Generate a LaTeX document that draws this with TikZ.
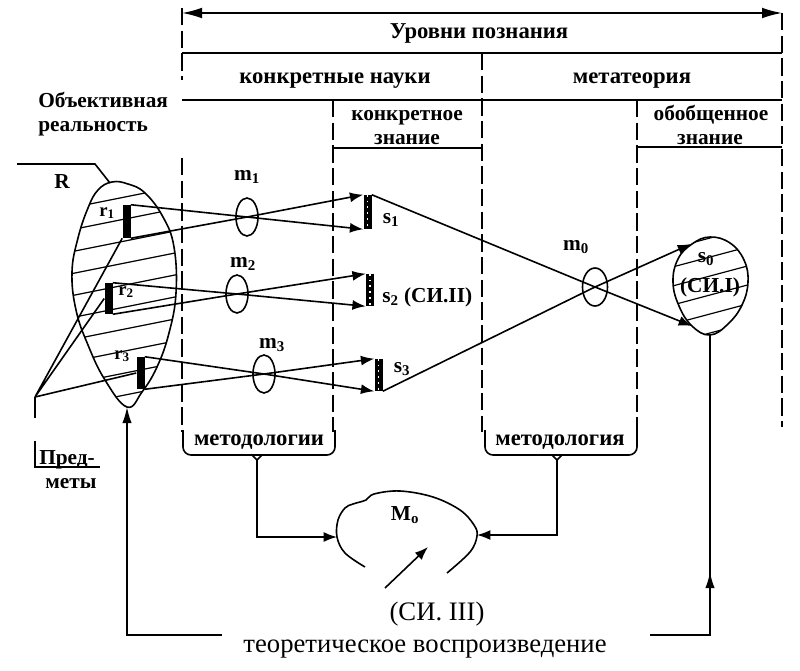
\documentclass[tikz,border=0pt]{standalone}
\usepackage{fontspec}
\setmainfont{Liberation Serif}
\usetikzlibrary{arrows.meta,shapes.geometric}
\begin{document}
\begin{tikzpicture}[x=0.75pt,y=-0.75pt,
 ln/.style={line width=1.2pt},
 hl/.style={line width=0.9pt},
 dl/.style={line width=1.2pt,dash pattern=on 13pt off 4pt},
 tip/.style={-{Latex[length=10pt,width=7.5pt]}},
 bigtip/.style={{Latex[length=15pt,width=8pt]}-{Latex[length=15pt,width=8pt]}},
 hdr/.style={font=\bfseries\fontsize{17}{20}\selectfont,inner sep=0pt,anchor=base},
 two/.style={font=\bfseries\fontsize{16}{19}\selectfont,inner sep=0pt,anchor=base},
 lbl/.style={font=\bfseries\fontsize{16}{19}\selectfont,inner sep=0pt,anchor=base},
 sml/.style={font=\bfseries\fontsize{14}{16}\selectfont,inner sep=0pt,anchor=base},
 txt/.style={font=\fontsize{20}{24}\selectfont,inner sep=0pt,anchor=base},
 lens/.style={draw,ellipse,line width=1.2pt,minimum width=16.5pt,minimum height=28.5pt,inner sep=0pt},
 bar/.style={fill=black,minimum width=6pt,inner sep=0pt},
 dots/.style={white,line width=1.4pt,dash pattern=on 1.4pt off 3pt},
]
\useasboundingbox (0,0) rectangle (800,671);
\fill[white] (0,0) rectangle (800,671);

% ---------- header frame ----------
\draw[ln,bigtip] (182,13) -- (782,13);
\draw[ln] (182,53) -- (782,53);
\draw[ln] (182,100) -- (782,100);
\draw[ln] (333,148) -- (482,148);
\draw[ln] (637,147) -- (782,147);
\draw[dl] (182,8) -- (182,80);
\draw[dl] (182,158) -- (182,432);
\draw[dl] (333,100) -- (333,432);
\draw[dl] (482,53) -- (482,432);
\draw[dl] (637,100) -- (637,432);
\draw[dl] (782,13) -- (782,427);

\node[hdr] (tU) at (479,38) {Уровни познания};
\node[hdr] (tK) at (335,83) {конкретные науки};
\node[hdr] (tM) at (632,83) {метатеория};
\node[two] (tKZ1) at (407,120) {конкретное};
\node[two] (tKZ2) at (407,144) {знание};
\node[two] (tOZ1) at (711,120) {обобщенное};
\node[two] (tOZ2) at (710,144) {знание};
\node[lbl,anchor=base west] (tO1) at (38,107) {Объективная};
\node[lbl,anchor=base west] (tO2) at (38,131) {реальность};

% ---------- R blob ----------
\begin{scope}
\clip plot[smooth cycle,tension=0.7] coordinates {(112,182) (128,184) (145,193) (163,217) (174,247) (176,293) (169,333) (157,367) (142,392) (127,407) (105,380) (88,345) (76,310) (72,272) (78,238) (88,208) (98,190)};
\foreach \c in {188,210,...,440} \draw[hl] (60,\c) -- (190,\c-26);
\end{scope}
\draw[ln] plot[smooth cycle,tension=0.7] coordinates {(112,182) (128,184) (145,193) (163,217) (174,247) (176,293) (169,333) (157,367) (142,392) (127,407) (105,380) (88,345) (76,310) (72,272) (78,238) (88,208) (98,190)};
\coordinate (Rtop) at (110,183);
\coordinate (Rb) at (127,407);
\coordinate (Rp1) at (17,164);
\coordinate (Rp2) at (95,164);
\draw[ln] (Rp1) -- (Rp2) -- (Rtop);
\node[lbl] (tR) at (62,188) {R};

% bars r
\node[bar,minimum height=24.75pt] (r1) at (126.5,221.5) {};
\node[bar,minimum height=23.25pt] (r2) at (108.5,298.5) {};
\node[bar,minimum height=24pt] (r3) at (140.5,373) {};
\node[sml] (tr1) at (107,216) {r\textsubscript{1}};
\node[sml] (tr2) at (126,295) {r\textsubscript{2}};
\node[sml] (tr3) at (122,359) {r\textsubscript{3}};

% Predmety
\coordinate (P) at (35,397);
\coordinate (P2) at (35,418);
\draw[ln] (r1.south west) -- (P) -- (r2.west);
\draw[ln] (P) -- (r3.west);
\draw[ln] (P) -- (P2);
\draw[ln] (35,441) -- (35,467) -- (100,467);
\node[lbl,anchor=base west] (tP1) at (39,464) {Пред-};
\node[lbl] (tP2) at (71,488) {меты};

% lenses
\node[lens] (m1) at (247,217) {};
\node[lens] (m2) at (237,294) {};
\node[lens] (m3) at (264,374) {};
\node[lens,minimum width=18.75pt] (m0) at (595,287) {};
\node[lbl] (tm1) at (247,180) {m\textsubscript{1}};
\node[lbl] (tm2) at (243,267) {m\textsubscript{2}};
\node[lbl] (tm3) at (272,348) {m\textsubscript{3}};
\node[lbl] (tm0) at (576,250) {m\textsubscript{0}};

% bars s
\node[bar,minimum height=25.5pt] (s1) at (367.5,212) {};
\node[bar,minimum height=24pt] (s2) at (370,290) {};
\node[bar,minimum height=24pt] (s3) at (378.5,375) {};
\draw[dots] (s1.north) -- (s1.south);
\draw[dots] (s2.north) -- (s2.south);
\draw[dots] (s3.north) -- (s3.south);
\node[lbl] (ts1) at (391,223) {s\textsubscript{1}};
\node[lbl,anchor=base west] (ts2) at (382,302) {s\textsubscript{2} (СИ.II)};
\node[lbl] (ts3) at (402,372) {s\textsubscript{3}};

% rays
\draw[ln,tip] (r1.north east) -- (m1.center) -- (s1.south west);
\draw[ln,tip] (r1.south east) -- (m1.center) -- (s1.north west);
\draw[ln,tip] (r2.north east) -- (m2.center) -- (s2.south west);
\draw[ln,tip] (r2.south east) -- (m2.center) -- (s2.north west);
\draw[ln,tip] (r3.north east) -- (m3.center) -- (s3.south west);
\draw[ln,tip] (r3.south east) -- (m3.center) -- (s3.north west);

% s0 blob
\begin{scope}
\clip plot[smooth cycle,tension=0.7] coordinates {(710,237) (730,243) (744,260) (748,282) (742,305) (728,324) (710,335) (692,326) (679,306) (673,282) (678,259) (692,244)};
\foreach \c in {250,269,...,370} \draw[hl] (665,\c) -- (755,\c-24);
\end{scope}
\draw[ln] plot[smooth cycle,tension=0.7] coordinates {(710,237) (730,243) (744,260) (748,282) (742,305) (728,324) (710,335) (692,326) (679,306) (673,282) (678,259) (692,244)};
\coordinate (s0a) at (691,244);
\coordinate (s0b) at (692,326);
\coordinate (s0bot) at (710,335);
\node[lbl] (ts0) at (706,262) {s\textsubscript{0}};
\node[lbl] (tsi1) at (710,292) {(СИ.I)};

\draw[ln,tip] (s1.north east) -- (m0.center) -- (s0b);
\draw[ln,tip] (s3.south east) -- (m0.center) -- (s0a);

% brackets methodology
\draw[ln,rounded corners=6pt] (183,430) -- (183,455) -- (257,455);
\draw[ln,rounded corners=6pt] (257,455) -- (335,455) -- (335,430);
\draw[ln] (252,455) -- (257,460) -- (262,455);
\draw[ln,rounded corners=6pt] (485,430) -- (485,455) -- (557,455);
\draw[ln,rounded corners=6pt] (557,455) -- (637,455) -- (637,430);
\draw[ln] (552,455) -- (557,460) -- (562,455);
\node[hdr] (tMet1) at (259,445) {методологии};
\node[hdr] (tMet2) at (560,445) {методология};

% M0 blob
\draw[ln] plot[smooth,tension=0.6] coordinates {(365,567) (345,553) (337,537) (338,520) (345,508) (353,504) (366,500) (374,494) (400,491) (433,497) (460,510) (474,525) (477,536) (470,552) (447,573)};
\node[lbl] (tM0) at (405,520) {M\textsubscript{o}};
\coordinate (b1) at (257,459);
\coordinate (b2) at (557,459);
\coordinate (M0l) at (337,537);
\coordinate (M0r) at (477,535);
\draw[ln,tip] (b1) |- (M0l);
\draw[ln,tip] (b2) |- (M0r);
\coordinate (ca) at (385,588);
\coordinate (cb) at (428,547);
\draw[ln,tip] (ca) -- (cb);

% bottom loop
\node[txt] (tsi3) at (437,620) {(СИ. III)};
\node[txt] (tteo) at (425,652) {теоретическое воспроизведение};
\coordinate (cl) at (127,635);
\coordinate (gl) at (222,635);
\coordinate (gr) at (650,635);
\coordinate (cr) at (710,635);
\draw[ln,-{Latex[length=12pt,width=7pt]}] (gl) -- (cl) -- (Rb);
\draw[ln] (gr) -- (cr) -- (s0bot);
\coordinate (ua1) at (710,595);
\coordinate (ua2) at (710,572);
\draw[ln,-{Latex[length=12pt,width=7pt]}] (ua1) -- (ua2);
\end{tikzpicture}
\end{document}
